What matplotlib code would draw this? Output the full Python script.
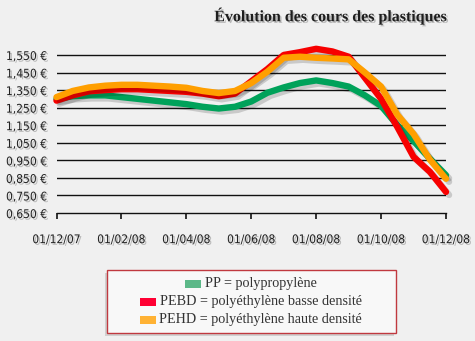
import numpy as np
import matplotlib
matplotlib.use("Agg")
import matplotlib.pyplot as plt
import matplotlib.patheffects as pe
from matplotlib.patches import Rectangle
from matplotlib.offsetbox import AnchoredOffsetbox, HPacker, DrawingArea, TextArea

# Monthly prices (€/kg), sampled every half month from 01/12/07 to 01/12/08
months = np.arange(0, 12.5, 0.5)
pp = [1.30, 1.315, 1.32, 1.32, 1.31, 1.30, 1.29, 1.28, 1.27, 1.255, 1.245, 1.255,
      1.285, 1.335, 1.365, 1.39, 1.405, 1.39, 1.37, 1.32, 1.26, 1.15, 1.06, 0.96, 0.865]
pebd = [1.29, 1.32, 1.343, 1.35, 1.355, 1.355, 1.35, 1.345, 1.34, 1.33, 1.315, 1.33,
        1.40, 1.47, 1.55, 1.566, 1.585, 1.57, 1.54, 1.42, 1.30, 1.14, 0.97, 0.885, 0.77]
pehd = [1.31, 1.345, 1.365, 1.375, 1.38, 1.38, 1.375, 1.37, 1.363, 1.345, 1.333, 1.345,
        1.39, 1.455, 1.534, 1.54, 1.534, 1.53, 1.525, 1.45, 1.37, 1.21, 1.10, 0.955, 0.845]

tick_months = [0, 2, 4, 6, 8, 10, 12]
tick_dates = ["01/12/07", "01/02/08", "01/04/08", "01/06/08", "01/08/08", "01/10/08", "01/12/08"]
y_ticks = [0.65, 0.75, 0.85, 0.95, 1.05, 1.15, 1.25, 1.35, 1.45, 1.55]

series_labels = ["PP = polypropylène",
                 "PEBD = polyéthylène basse densité",
                 "PEHD = polyéthylène haute densité"]
line_colors = ["#00a25a", "#f70000", "#ff9f00"]
swatch_colors = ["#5cb888", "#ff0033", "#ffb234"]

BG = "#f0f0f0"
W, H = 475, 341
fig = plt.figure(figsize=(W / 100, H / 100), dpi=100, facecolor=BG)

ax = fig.add_axes([56.5 / W, 1 - 213 / H, 389.5 / W, 170.5 / H])
ax.set_facecolor(BG)
ax.set_xlim(0, 12)
ax.set_ylim(0.65, 0.65 + 170.5 / 175.6)

for s in ["top", "right", "left"]:
    ax.spines[s].set_visible(False)
ax.spines["bottom"].set_color("#111111")
ax.spines["bottom"].set_linewidth(1.0)

for v in y_ticks[1:]:
    ax.axhline(v, color="#111111", lw=1.0, zorder=1)

text_shadow = [pe.withSimplePatchShadow(offset=(1.2, -1.2), shadow_rgbFace="#777777", alpha=0.45)]

ax.set_yticks(y_ticks)
ax.set_yticklabels([f"{v:.3f}".replace(".", ",") + " €" for v in y_ticks])
ax.tick_params(axis="y", length=0, pad=7)
ax.set_xticks(tick_months)
ax.set_xticklabels(tick_dates)
ax.tick_params(axis="x", direction="out", length=4.5, width=1.2, color="#111111", pad=10)
for lab in ax.get_xticklabels() + ax.get_yticklabels():
    lab.set_fontfamily("DejaVu Sans")
    lab.set_fontstretch("condensed")
    lab.set_fontsize(8.6)
    lab.set_color("#222222")
    lab.set_path_effects(text_shadow)

line_fx = [pe.SimpleLineShadow(offset=(2.2, -2.2), shadow_color="black", alpha=0.16), pe.Normal()]
for vals, col in zip([pp, pebd, pehd], line_colors):
    ax.plot(months, vals, color=col, lw=4.6, solid_joinstyle="round",
            solid_capstyle="round", clip_on=False, zorder=3, path_effects=line_fx)

fig.text(447 / W, 1 - 16 / H, "Évolution des cours des plastiques",
         ha="right", va="center", fontsize=11.5, fontweight="bold",
         family=["Liberation Serif", "DejaVu Serif"], color="#1e1e1e",
         path_effects=text_shadow)

# Legend frame
fig.patches.append(Rectangle((105 / W, 1 - 336 / H), 289 / W, 63 / H,
                             transform=fig.transFigure, facecolor="#bbbbbb",
                             edgecolor="none", alpha=0.6, zorder=1))
fig.patches.append(Rectangle((107 / W, 1 - 333 / H), 289 / W, 63 / H,
                             transform=fig.transFigure, facecolor="#f8f8f8",
                             edgecolor="#c0393f", lw=1.0, zorder=2))

row_y = [284, 302, 320]
for lab, col, yy in zip(series_labels, swatch_colors, row_y):
    da = DrawingArea(11.5, 6.0, 0, 0)
    da.add_artist(Rectangle((0, 0), 11.5, 6.0, facecolor=col, edgecolor="none"))
    ta = TextArea(lab, textprops=dict(fontsize=10.2, color="#333333",
                                      family=["Liberation Serif", "DejaVu Serif"]))
    row = HPacker(children=[da, ta], align="center", pad=0, sep=2.5)
    box = AnchoredOffsetbox(loc="center", child=row, pad=0, borderpad=0, frameon=False,
                            bbox_to_anchor=(251 / W, 1 - yy / H),
                            bbox_transform=fig.transFigure)
    box.set_zorder(5)
    fig.add_artist(box)

fig.savefig("out.png", dpi=100, facecolor=BG)
